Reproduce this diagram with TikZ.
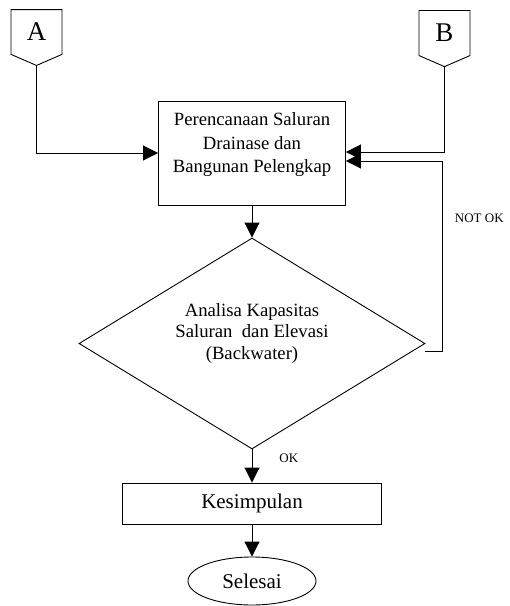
\documentclass[tikz,border=0pt]{standalone}
\usepackage{fontspec}
\setmainfont{Liberation Serif}
\usetikzlibrary{arrows.meta,positioning,shapes.geometric,shapes.symbols}

\begin{document}
\begin{tikzpicture}[
  x=1pt,y=-1pt,
  >={Triangle[length=15pt,width=15pt]},
  base/.style={draw=black,line width=.9pt},
  block/.style={base,rectangle,align=center,font=\fontsize{18.7}{23.5}\selectfont},
  decision/.style={base,diamond,aspect=1.64,align=center,inner sep=0pt,font=\fontsize{18.7}{21.5}\selectfont},
  terminal/.style={base,ellipse,font=\fontsize{21}{25}\selectfont},
  offpage/.style={base,signal,signal to=south,signal from=nowhere,signal pointer angle=133,minimum width=51pt,minimum height=49pt,inner sep=0pt,font=\fontsize{27}{30}\selectfont},
  line/.style={->,line width=.9pt,black},
  tag/.style={font=\fontsize{13}{15}\selectfont,inner sep=0pt}
]
\useasboundingbox (0,0) rectangle (510,606);

% Off-page connectors.
\node[offpage] (inA) at (36.5,32) {A};
\node[offpage] (inB) at (444.5,33) {B};

% Main flow.
\node[block,minimum width=187pt,minimum height=104pt,text depth=20pt] (plan) at (252,153) {Perencanaan Saluran\\Drainase dan\\Bangunan Pelengkap};
\node[decision,minimum width=346pt,minimum height=211pt,text depth=24pt] (check) at (252,343.5) {Analisa Kapasitas\\Saluran~ dan Elevasi\\(Backwater)};
\node[block,minimum width=259pt,minimum height=41pt,font=\fontsize{21}{25}\selectfont] (result) at (252,503.5) {Kesimpulan};
\node[terminal,minimum width=128pt,minimum height=48pt] (done) at (252,581) {Selesai};

\draw[line] (inA.south) |- (plan.west);
\draw[line] (inB.south) |- ([yshift=1pt]plan.east);
\draw[line] (plan.south) -- (check.north);
\draw[line] (check.south) -- node[pos=.26,right=27pt,tag] {OK} (result.north);
\draw[line] (result.south) -- (done.north);

% Loop back when capacity is not sufficient.
\draw[line] ([yshift=-8pt]check.east) -- ++(17,0) |- node[pos=.35,right=12pt,tag] {NOT OK} ([yshift=-8pt]plan.east);
\end{tikzpicture}
\end{document}
